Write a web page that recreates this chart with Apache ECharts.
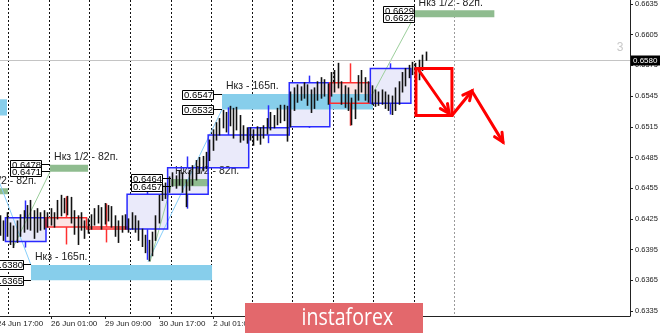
<!DOCTYPE html>
<html>
<head>
<meta charset="utf-8">
<script src="https://cdn.jsdelivr.net/npm/echarts@6.0.0/dist/echarts.min.js"></script>
<style>
html,body{margin:0;padding:0;background:#ffffff;}
#chart{width:665px;height:334px;}
</style>
</head>
<body>
<div id="chart"></div>
<script>
// x = trading hours counted from 25 Jun 00:00 (H1 chart, sampled every 2 hours)
const barHours = [-5,-3,-1,1,3,5,7,9,11,13,
  15,17,19,21,23,25,27,29,31,33,
  35,37,39,41,43,45,47,49,51,53,
  55,57,59,61,63,65,67,69,71,73,
  75,77,79,81,83,85,87,89,91,93,
  95,97,99,101,103,105,107,109,111,113,
  115,117,119,121,123,125,127,129,131,133,
  135,137,139,141,143,145,147,149,151,153,
  155,157,159,161,163,165,167,169,171,173,
  175,177,179,181,183,185,187,189,191,193,
  195,197,199,201,203,205,207,209,211,213,
  215,217,219,221,223,225,227,229,231,233,
  235,237,239,241,243,245,247];
const barHigh = [0.6428,0.6423,0.6431,0.6421,0.6418,0.6423,0.6429,0.6433,0.6438,0.6443,
  0.6433,0.6435,0.6431,0.6433,0.6431,0.6435,0.6431,0.6443,0.6448,0.6445,
  0.6447,0.6446,0.6433,0.6428,0.6431,0.6423,0.6425,0.6429,0.6435,0.6438,
  0.6436,0.6440,0.6438,0.6437,0.6428,0.6423,0.6428,0.6429,0.6425,0.6431,
  0.6428,0.6423,0.6415,0.6409,0.6404,0.6412,0.6428,0.6448,0.6458,0.6460,
  0.6466,0.6470,0.6467,0.6472,0.6470,0.6463,0.6472,0.6477,0.6482,0.6485,
  0.6486,0.6490,0.6502,0.6512,0.6519,0.6523,0.6531,0.6529,0.6535,0.6533,
  0.6534,0.6526,0.6516,0.6514,0.6514,0.6512,0.6515,0.6514,0.6516,0.6523,
  0.6529,0.6526,0.6533,0.6536,0.6536,0.6535,0.6549,0.6553,0.6556,0.6554,
  0.6558,0.6556,0.6551,0.6553,0.6559,0.6563,0.6561,0.6557,0.6568,0.6570,
  0.6577,0.6559,0.6555,0.6553,0.6543,0.6551,0.6565,0.6570,0.6563,0.6559,
  0.6555,0.6551,0.6549,0.6551,0.6549,0.6546,0.6545,0.6553,0.6559,0.6568,
  0.6572,0.6575,0.6578,0.6577,0.6580,0.6585,0.6588];
const barLow = [0.6409,0.6404,0.6408,0.6400,0.6397,0.6402,0.6408,0.6412,0.6415,0.6414,
  0.6406,0.6412,0.6414,0.6415,0.6417,0.6419,0.6417,0.6425,0.6428,0.6431,
  0.6429,0.6421,0.6410,0.6400,0.6414,0.6406,0.6411,0.6415,0.6419,0.6421,
  0.6415,0.6420,0.6423,0.6417,0.6408,0.6402,0.6412,0.6415,0.6412,0.6415,
  0.6412,0.6404,0.6398,0.6392,0.6384,0.6389,0.6404,0.6421,0.6443,0.6445,
  0.6451,0.6457,0.6455,0.6458,0.6451,0.6437,0.6453,0.6458,0.6463,0.6470,
  0.6472,0.6474,0.6482,0.6492,0.6502,0.6507,0.6514,0.6510,0.6516,0.6504,
  0.6512,0.6500,0.6502,0.6499,0.6502,0.6497,0.6502,0.6498,0.6504,0.6508,
  0.6512,0.6514,0.6517,0.6519,0.6521,0.6501,0.6515,0.6531,0.6539,0.6541,
  0.6543,0.6536,0.6529,0.6533,0.6541,0.6543,0.6545,0.6537,0.6545,0.6549,
  0.6553,0.6537,0.6534,0.6531,0.6517,0.6523,0.6541,0.6549,0.6541,0.6539,
  0.6537,0.6535,0.6536,0.6537,0.6533,0.6531,0.6527,0.6531,0.6537,0.6549,
  0.6555,0.6563,0.6566,0.6565,0.6561,0.6570,0.6580];

// daily candles (from 22:00) drawn as boxes
const dayStart = [-2,22,46,70,94,118,142,166,190,214];
const dayEnd   = [22,46,70,94,118,142,166,190,214,238];
const dayOpen  = [0.6403,0.6426,0.6417,0.6415,0.6449,0.6475,0.6507,0.6515,0.6558,0.6538];
const dayClose = [0.6426,0.6417,0.6415,0.6449,0.6475,0.6507,0.6514,0.6558,0.6538,0.6572];
const dayHigh  = [0.6443,0.6447,0.6440,0.6458,0.6486,0.6534,0.6536,0.6565,0.6577,0.6577];
const dayLow   = [0.6397,0.6400,0.6402,0.6385,0.6435,0.6475,0.6499,0.6514,0.6516,0.6527];

// target zones
const zoneStart  = [-45, 126.2, 13.1, -24, 24.4, 96.0, 240.2];
const zoneEnd    = [-1.1, 215.6, 120.3, -0.5, 46.9, 118.5, 287.4];
const zoneTop    = [0.6542,0.6547,0.6380,0.6455,0.6478,0.6464,0.6629];
const zoneBottom = [0.6526,0.6532,0.6365,0.6449,0.6471,0.6457,0.6622];
const zoneKind   = ['full','full','full','half','half','half','half'];
const zoneLabel  = ['Нкз - 165п.','Нкз - 165п.','Нкз - 165п.','Нкз 1/2 - 82п.','Нкз 1/2 - 82п.','Нкз 1/2 - 82п.','Нкз 1/2 - 82п.'];
const zoneTagEnd = [null, 120.9, 8.4, null, 19.0, 90.7, 239.8];

// thin connector lines
const linkFromH = [239.8, 126.2, 96.0, 24.4, -8.2];
const linkFromP = [0.6622, 0.6532, 0.6457, 0.6471, 0.6472];
const linkToH   = [215.0, 82.4, 83.6, 2.5, 13.1];
const linkToP   = [0.6546, 0.6383, 0.6383, 0.6397, 0.6380];
const linkKind  = ['half','full','half','half','full'];

// forecast drawing (red)
const redBox = {h0: 241.0, h1: 262.3, top: 0.6572, bottom: 0.6526};
const arrowFromH = [242.8, 262.3, 274.1];
const arrowFromP = [0.6570, 0.6526, 0.6550];
const arrowToH   = [260.6, 274.1, 292.5];
const arrowToP   = [0.6528, 0.6550, 0.6500];

// day separators, bid, notes, ticks
const sepHours = [0,24,48,72,96,120,144,168,192,216,240,264];
const bidPrice = 0.6580;
const noteH = [361.9], noteP = [0.6592], noteText = ['3'];
const xTickHours = [-7,25,57,89,121];
const xTickText = ['24 Jun 17:00','26 Jun 01:00','29 Jun 09:00','30 Jun 17:00','2 Jul 01:00'];
const yTickValues = [0.6335,0.6365,0.6395,0.6425,0.6455,0.6485,0.6515,0.6545,0.6575,0.6605,0.6635];

const FONT = '"Liberation Sans", Arial, sans-serif';
const yMin = 0.63301, yMax = 0.66389, xMin = -7, xMax = 367.7;
const lastBarHour = barHours[barHours.length - 1];
const ZONE_COLOR = {full: '#87ceeb', half: '#8fbc8f'};
const LINK_COLOR = {full: '#87cefa', half: '#9ccf9c'};
const crisp = v => Math.round(v - 0.5) + 0.5;

function arrowHead(x1, y1, x2, y2, len, spread) {
  const ang = Math.atan2(y2 - y1, x2 - x1);
  const a1 = ang + Math.PI - spread, a2 = ang + Math.PI + spread;
  return [[x2 + len * Math.cos(a1), y2 + len * Math.sin(a1)], [x2, y2], [x2 + len * Math.cos(a2), y2 + len * Math.sin(a2)]];
}

const chart = echarts.init(document.getElementById('chart'), null, {renderer: 'canvas'});

const tagData = [];
zoneTagEnd.forEach((t, i) => {
  if (t === null) return;
  tagData.push([t, zoneStart[i], zoneTop[i]]);
  tagData.push([t, zoneStart[i], zoneBottom[i]]);
});

const option = {
  animation: false,
  backgroundColor: '#ffffff',
  grid: {left: -3, right: 35, top: 0, bottom: 18, containLabel: false, outerBoundsMode: 'none'},
  xAxis: {
    type: 'value', min: xMin, max: xMax,
    splitLine: {show: false},
    axisLine: {show: true, onZero: false, lineStyle: {color: '#222', width: 1}},
    axisTick: {show: true, customValues: xTickHours, length: 3, lineStyle: {color: '#222'}},
    axisLabel: {
      customValues: xTickHours, align: 'left', margin: 4,
      color: '#222', fontSize: 8, fontFamily: '"Liberation Sans", Arial',
      formatter: v => { const i = xTickHours.indexOf(v); return i >= 0 ? xTickText[i] : ''; }
    }
  },
  yAxis: {
    type: 'value', position: 'right', min: yMin, max: yMax, scale: true,
    splitLine: {show: false},
    axisLine: {show: true, onZero: false, lineStyle: {color: '#222', width: 1}},
    axisTick: {show: true, customValues: yTickValues, length: 3, lineStyle: {color: '#222'}},
    axisLabel: {
      customValues: yTickValues, margin: 5, color: '#222', fontSize: 7.5,
      fontFamily: '"Liberation Sans", Arial', formatter: v => v.toFixed(4)
    }
  },
  series: [
    { // day separators
      type: 'custom', z: 1, silent: true, clip: true,
      data: sepHours.map(h => [h, yMin]),
      renderItem: (params, api) => {
        const cs = params.coordSys;
        const h = api.value(0);
        const x = crisp(api.coord([h, yMin])[0]);
        return {type: 'line', shape: {x1: x, y1: cs.y, x2: x, y2: cs.y + cs.height},
          style: {stroke: h > lastBarHour ? '#9a9a9a' : '#111', lineWidth: 1, lineDash: [2, 2]}};
      }
    },
    { // day box fills
      type: 'custom', z: 2, silent: true, clip: true,
      data: dayStart.map((s, i) => [s, dayEnd[i], dayOpen[i], dayClose[i], dayHigh[i], dayLow[i]]),
      renderItem: (params, api) => {
        const o = api.value(2), c = api.value(3);
        const a = api.coord([api.value(0), Math.max(o, c)]);
        const b = api.coord([api.value(1), Math.min(o, c)]);
        return {type: 'rect', shape: {x: a[0], y: a[1], width: b[0] - a[0], height: Math.max(1, b[1] - a[1])},
          style: {fill: c >= o ? '#eaeafa' : '#fce4e4'}};
      }
    },
    { // zones
      type: 'custom', z: 3, silent: true, clip: true,
      data: zoneStart.map((s, i) => [s, zoneEnd[i], zoneTop[i], zoneBottom[i], i]),
      renderItem: (params, api) => {
        const i = api.value(4);
        const a = api.coord([api.value(0), api.value(2)]);
        const b = api.coord([api.value(1), api.value(3)]);
        return {type: 'group', children: [
          {type: 'rect', shape: {x: a[0], y: a[1], width: b[0] - a[0], height: b[1] - a[1]},
            style: {fill: ZONE_COLOR[zoneKind[i]]}},
          {type: 'text', x: a[0] + 4, y: a[1] - 2,
            style: {text: zoneLabel[i], fill: '#222', font: '10.5px ' + FONT, align: 'left', verticalAlign: 'bottom'}}
        ]};
      }
    },
    { // connector lines
      type: 'custom', z: 4, silent: true, clip: true,
      data: linkFromH.map((h, i) => [h, linkFromP[i], linkToH[i], linkToP[i], i]),
      renderItem: (params, api) => {
        const a = api.coord([api.value(0), api.value(1)]);
        const b = api.coord([api.value(2), api.value(3)]);
        return {type: 'line', shape: {x1: a[0], y1: a[1], x2: b[0], y2: b[1]},
          style: {stroke: LINK_COLOR[linkKind[api.value(4)]], lineWidth: 1}};
      }
    },
    { // day box outlines + wicks
      type: 'custom', z: 5, silent: true, clip: true,
      data: dayStart.map((s, i) => [s, dayEnd[i], dayOpen[i], dayClose[i], dayHigh[i], dayLow[i]]),
      renderItem: (params, api) => {
        const s = api.value(0), e = api.value(1), o = api.value(2), c = api.value(3);
        const col = c >= o ? '#2a2aff' : '#ff3030';
        const a = api.coord([s, Math.max(o, c)]);
        const b = api.coord([e, Math.min(o, c)]);
        const mid = crisp(api.coord([(s + e) / 2, o])[0]);
        const hi = api.coord([s, api.value(4)])[1];
        const lo = api.coord([s, api.value(5)])[1];
        return {type: 'group', children: [
          {type: 'rect', shape: {x: a[0], y: a[1], width: b[0] - a[0], height: Math.max(1, b[1] - a[1])},
            style: {fill: 'none', stroke: col, lineWidth: 1.5}},
          {type: 'line', shape: {x1: mid, y1: a[1], x2: mid, y2: hi}, style: {stroke: col, lineWidth: 1.5}},
          {type: 'line', shape: {x1: mid, y1: b[1], x2: mid, y2: lo}, style: {stroke: col, lineWidth: 1.5}}
        ]};
      }
    },
    { // bid line with price box
      type: 'custom', z: 6, silent: true, clip: false,
      data: [[xMin, bidPrice]],
      renderItem: (params, api) => {
        const cs = params.coordSys;
        const y = crisp(api.coord([xMin, api.value(1)])[1]);
        return {type: 'group', children: [
          {type: 'line', shape: {x1: Math.max(0, cs.x), y1: y, x2: cs.x + cs.width, y2: y}, style: {stroke: '#c4c4c4', lineWidth: 1}},
          {type: 'rect', shape: {x: cs.x + cs.width + 1, y: y - 5, width: 29, height: 10}, style: {fill: '#000'}},
          {type: 'text', x: cs.x + cs.width + 3, y: y, style: {text: api.value(1).toFixed(4), fill: '#fff', font: '8px ' + FONT, align: 'left', verticalAlign: 'middle'}}
        ]};
      }
    },
    { // price bars (high-low)
      type: 'custom', z: 7, silent: true, clip: true,
      data: barHours.map((h, i) => [h, barLow[i], barHigh[i]]),
      renderItem: (params, api) => {
        const p1 = api.coord([api.value(0), api.value(1)]);
        const p2 = api.coord([api.value(0), api.value(2)]);
        const x = crisp(p1[0]);
        return {type: 'line', shape: {x1: x, y1: p1[1] + 0.5, x2: x, y2: p2[1] - 0.5},
          style: {stroke: '#111111', lineWidth: 1.6}};
      }
    },
    { // price tags
      type: 'custom', z: 8, silent: true, clip: false,
      data: tagData,
      renderItem: (params, api) => {
        const price = api.value(2);
        const a = api.coord([api.value(0), price]);
        const b = api.coord([api.value(1), price]);
        const w = 31, hh = 9;
        const x0 = Math.round(a[0]) - w + 0.5, y0 = Math.round(a[1] - hh / 2) + 0.5;
        const ly = crisp(a[1]);
        return {type: 'group', children: [
          {type: 'line', shape: {x1: x0 + w, y1: ly, x2: b[0], y2: ly}, style: {stroke: '#000', lineWidth: 1}},
          {type: 'rect', shape: {x: x0, y: y0, width: w, height: hh}, style: {fill: '#fff', stroke: '#000', lineWidth: 1}},
          {type: 'text', x: x0 + 1.5, y: y0 + hh / 2 + 0.5, style: {text: price.toFixed(4), fill: '#000', font: '9.5px ' + FONT, align: 'left', verticalAlign: 'middle'}}
        ]};
      }
    },
    { // notes
      type: 'custom', z: 8, silent: true, clip: true,
      data: noteH.map((h, i) => [h, noteP[i], i]),
      renderItem: (params, api) => {
        const p = api.coord([api.value(0), api.value(1)]);
        return {type: 'text', x: p[0], y: p[1], style: {text: noteText[api.value(2)], fill: '#c8c8c8', font: '12px ' + FONT, align: 'center', verticalAlign: 'middle'}};
      }
    },
    { // red forecast box
      type: 'custom', z: 9, silent: true, clip: false,
      data: [[redBox.h0, redBox.top, redBox.h1, redBox.bottom]],
      renderItem: (params, api) => {
        const a = api.coord([api.value(0), api.value(1)]);
        const b = api.coord([api.value(2), api.value(3)]);
        return {type: 'rect', shape: {x: a[0], y: a[1], width: b[0] - a[0], height: b[1] - a[1]},
          style: {fill: 'none', stroke: '#ff0000', lineWidth: 3}};
      }
    },
    { // red arrows
      type: 'custom', z: 9, silent: true, clip: false,
      data: arrowFromH.map((h, i) => [h, arrowFromP[i], arrowToH[i], arrowToP[i]]),
      renderItem: (params, api) => {
        const a = api.coord([api.value(0), api.value(1)]);
        const b = api.coord([api.value(2), api.value(3)]);
        return {type: 'group', children: [
          {type: 'line', shape: {x1: a[0], y1: a[1], x2: b[0], y2: b[1]}, style: {stroke: '#ff0000', lineWidth: 3, lineCap: 'round'}},
          {type: 'polyline', shape: {points: arrowHead(a[0], a[1], b[0], b[1], 10, 0.45)},
            style: {fill: 'none', stroke: '#ff0000', lineWidth: 3, lineJoin: 'miter', lineCap: 'round'}}
        ]};
      }
    }
  ],
  graphic: [{
    type: 'group', left: 245, top: 303, z: 100,
    children: [
      {type: 'rect', z: 100, shape: {x: 0, y: 0, width: 178, height: 30}, style: {fill: '#e3686c'}},
      {type: 'text', z: 101, x: 89, y: 15, scaleX: 0.85, originX: 89, originY: 15,
        style: {text: 'instaforex', fill: '#ffffff', font: '23px "Open Sans", Lato, sans-serif', align: 'center', verticalAlign: 'middle'}}
    ]
  }]
};
chart.setOption(option);
</script>
</body>
</html>
